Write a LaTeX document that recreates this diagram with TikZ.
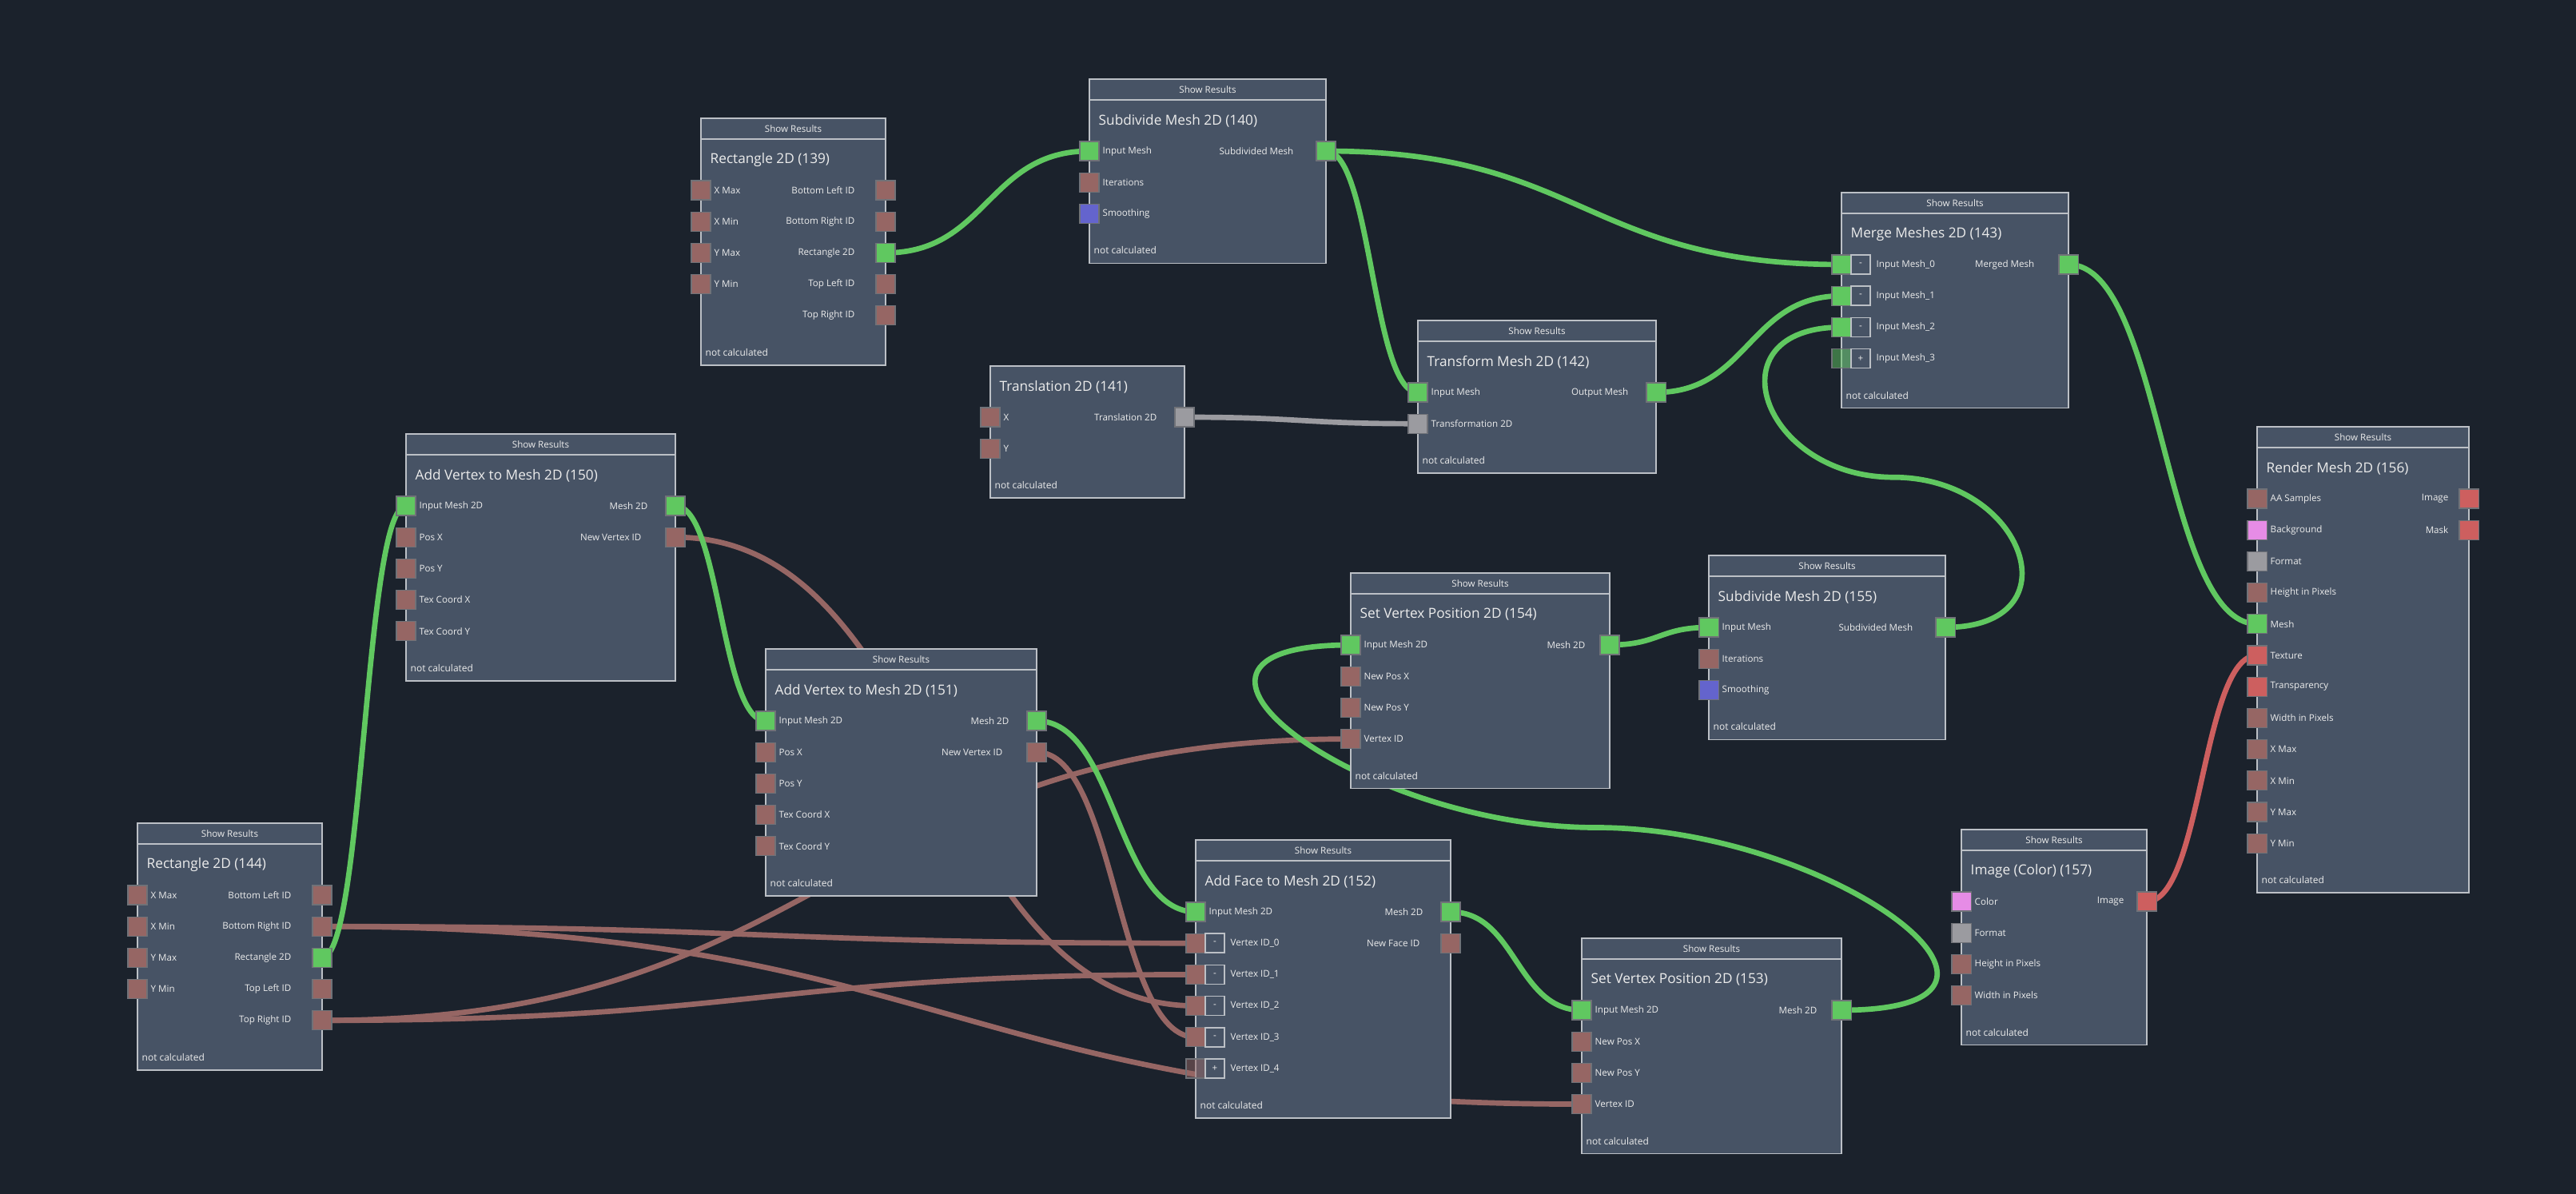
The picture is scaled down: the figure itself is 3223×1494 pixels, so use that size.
\documentclass[tikz,border=0pt]{standalone}
\usepackage{fontspec}
\setmainfont{Open Sans}
\usetikzlibrary{calc}
\definecolor{bg}{RGB}{27,34,44}
\definecolor{bodyc}{RGB}{71,83,101}
\definecolor{edgec}{RGB}{188,192,198}
\definecolor{txt}{RGB}{236,236,236}
\definecolor{cint}{RGB}{150,102,100}
\definecolor{cmesh}{RGB}{96,200,96}
\definecolor{cbool}{RGB}{100,100,205}
\definecolor{cgray}{RGB}{155,155,160}
\definecolor{cpink}{RGB}{230,140,230}
\definecolor{cimg}{RGB}{205,95,95}
\definecolor{portedge}{RGB}{112,114,120}
\pgfdeclarelayer{back}
\pgfdeclarelayer{wires}
\pgfsetlayers{back,wires,main}
\tikzset{
  nodehead/.style={draw=edgec,fill=bodyc,line width=0.45pt},
  nodebody/.style={draw=edgec,fill=bodyc,line width=0.45pt},
  hdrtxt/.style={text=txt,inner sep=0,font=\fontsize{3.3}{4}\selectfont},
  ttl/.style={text=txt,inner sep=0,anchor=west,font=\fontsize{4.9}{6}\selectfont},
  lbl/.style={text=txt,inner sep=0,font=\fontsize{3.3}{4}\selectfont},
  stat/.style={text=txt,inner sep=0,anchor=west,font=\fontsize{3.4}{4}\selectfont},
  port/.style={draw=portedge,line width=0.3pt,minimum size=0.24cm,inner sep=0,outer sep=0},
  btn/.style={draw=edgec,fill=bodyc,line width=0.45pt,minimum size=0.24cm,inner sep=0,
    text=txt,font=\fontsize{3.3}{4}\selectfont},
  wire/.style={line width=1.9pt}
}
\newcommand\nodeframe[6]{%
  \draw[nodebody] ({#2},{#3+26}) rectangle ({#4},{#5});
  \draw[nodehead] ({#2},{#3}) rectangle ({#4},{#3+26});
  \node[hdrtxt] (#1-hd) at ({(#2+#4)/2},{#3+13}) {Show Results};
  \node[ttl] (#1-tt) at ({#2+11},{#3+52}) {#6};
  \node[stat] (#1-st) at ({#2+5},{#5-16}) {not calculated};}
\newcommand\inport[5]{%
  \node[port,fill=#4] (#1) at ({#2},{#3}) {};
  \node[lbl,anchor=west] (#1-l) at ({#2+16},{#3}) {#5};}
\newcommand\outport[6][34]{%
  \node[port,fill=#5] (#2) at ({#3},{#4}) {};
  \node[lbl,anchor=east] (#2-l) at ({#3-#1},{#4}) {#6};}
\begin{document}
\begin{tikzpicture}[x=0.01cm,y=-0.01cm]
\begin{pgfonlayer}{back}
  \fill[bg] (0,0) rectangle (3223,1494);
\end{pgfonlayer}
\useasboundingbox (0,0) rectangle (3223,1494);

\nodeframe{n139}{877}{148}{1108}{456.8}{Rectangle 2D (139)}
\foreach \i/\t in {1/X Max,2/X Min,3/Y Max,4/Y Min}
  {\inport{n139-i\i}{877}{238+(\i-1)*39.2}{cint}{\t}}
\foreach \i/\c/\t in {1/cint/Bottom Left ID,2/cint/Bottom Right ID,3/cmesh/Rectangle 2D,4/cint/Top Left ID,5/cint/Top Right ID}
  {\outport[38]{n139-o\i}{1108}{238+(\i-1)*39.2}{\c}{\t}}

\nodeframe{n140}{1363}{99}{1659}{329.4}{Subdivide Mesh 2D (140)}
\foreach \i/\c/\t in {1/cmesh/Input Mesh,2/cint/Iterations,3/cbool/Smoothing}
  {\inport{n140-i\i}{1363}{189+(\i-1)*39.2}{\c}{\t}}
\outport[40]{n140-o1}{1659}{189}{cmesh}{Subdivided Mesh}

\draw[nodebody] (1239,458) rectangle (1482,623.2);
\node[ttl] (n141-tt) at (1250,484) {Translation 2D (141)};
\node[stat] (n141-st) at (1244,607.2) {not calculated};
\inport{n141-i1}{1239}{522}{cint}{X}
\inport{n141-i2}{1239}{561.2}{cint}{Y}
\outport{n141-o1}{1482}{522}{cgray}{Translation 2D}

\nodeframe{n142}{1774}{401}{2072}{592.2}{Transform Mesh 2D (142)}
\inport{n142-i1}{1774}{491}{cmesh}{Input Mesh}
\inport{n142-i2}{1774}{530.2}{cgray}{Transformation 2D}
\outport{n142-o1}{2072}{491}{cmesh}{Output Mesh}

\nodeframe{n143}{2304}{241}{2588}{510.6}{Merge Meshes 2D (143)}
\foreach \i/\s/\o/\t in {1/-/1/Input Mesh\_0,2/-/1/Input Mesh\_1,3/-/1/Input Mesh\_2,4/+/0.5/Input Mesh\_3}{
  \node[port,fill=cmesh,fill opacity=\o] (n143-i\i) at (2304,{331+(\i-1)*39.2}) {};
  \node[btn] (n143-b\i) at (2328,{331+(\i-1)*39.2}) {\s};
  \node[lbl,anchor=west] (n143-l\i) at (2347,{331+(\i-1)*39.2}) {\t};}
\outport[42]{n143-o1}{2588}{331}{cmesh}{Merged Mesh}

\nodeframe{n144}{172}{1030}{403}{1338.8}{Rectangle 2D (144)}
\foreach \i/\t in {1/X Max,2/X Min,3/Y Max,4/Y Min}
  {\inport{n144-i\i}{172}{1120+(\i-1)*39.2}{cint}{\t}}
\foreach \i/\c/\t in {1/cint/Bottom Left ID,2/cint/Bottom Right ID,3/cmesh/Rectangle 2D,4/cint/Top Left ID,5/cint/Top Right ID}
  {\outport[38]{n144-o\i}{403}{1120+(\i-1)*39.2}{\c}{\t}}

\nodeframe{n150}{508}{543}{845}{851.8}{Add Vertex to Mesh 2D (150)}
\foreach \i/\c/\t in {1/cmesh/Input Mesh 2D,2/cint/Pos X,3/cint/Pos Y,4/cint/Tex Coord X,5/cint/Tex Coord Y}
  {\inport{n150-i\i}{508}{633+(\i-1)*39.2}{\c}{\t}}
\outport{n150-o1}{845}{633}{cmesh}{Mesh 2D}
\outport[42]{n150-o2}{845}{672.2}{cint}{New Vertex ID}

\nodeframe{n151}{958}{812}{1297}{1120.8}{Add Vertex to Mesh 2D (151)}
\foreach \i/\c/\t in {1/cmesh/Input Mesh 2D,2/cint/Pos X,3/cint/Pos Y,4/cint/Tex Coord X,5/cint/Tex Coord Y}
  {\inport{n151-i\i}{958}{902+(\i-1)*39.2}{\c}{\t}}
\outport{n151-o1}{1297}{902}{cmesh}{Mesh 2D}
\outport[42]{n151-o2}{1297}{941.2}{cint}{New Vertex ID}

\nodeframe{n152}{1496}{1051}{1815}{1399}{Add Face to Mesh 2D (152)}
\inport{n152-i1}{1496}{1141}{cmesh}{Input Mesh 2D}
\foreach \i/\s/\o/\t in {2/-/1/Vertex ID\_0,3/-/1/Vertex ID\_1,4/-/1/Vertex ID\_2,5/-/1/Vertex ID\_3,6/+/0.5/Vertex ID\_4}{
  \node[port,fill=cint,fill opacity=\o] (n152-i\i) at (1496,{1141+(\i-1)*39.2}) {};
  \node[btn] (n152-b\i) at (1520,{1141+(\i-1)*39.2}) {\s};
  \node[lbl,anchor=west] (n152-l\i) at (1539,{1141+(\i-1)*39.2}) {\t};}
\outport{n152-o1}{1815}{1141}{cmesh}{Mesh 2D}
\outport[38]{n152-o2}{1815}{1180.2}{cint}{New Face ID}

\nodeframe{n153}{1979}{1174}{2304}{1443.6}{Set Vertex Position 2D (153)}
\foreach \i/\c/\t in {1/cmesh/Input Mesh 2D,2/cint/New Pos X,3/cint/New Pos Y,4/cint/Vertex ID}
  {\inport{n153-i\i}{1979}{1264+(\i-1)*39.2}{\c}{\t}}
\outport[30]{n153-o1}{2304}{1264}{cmesh}{Mesh 2D}

\nodeframe{n154}{1690}{717}{2014}{986.6}{Set Vertex Position 2D (154)}
\foreach \i/\c/\t in {1/cmesh/Input Mesh 2D,2/cint/New Pos X,3/cint/New Pos Y,4/cint/Vertex ID}
  {\inport{n154-i\i}{1690}{807+(\i-1)*39.2}{\c}{\t}}
\outport[30]{n154-o1}{2014}{807}{cmesh}{Mesh 2D}

\nodeframe{n155}{2138}{695}{2434}{925.4}{Subdivide Mesh 2D (155)}
\foreach \i/\c/\t in {1/cmesh/Input Mesh,2/cint/Iterations,3/cbool/Smoothing}
  {\inport{n155-i\i}{2138}{785+(\i-1)*39.2}{\c}{\t}}
\outport[40]{n155-o1}{2434}{785}{cmesh}{Subdivided Mesh}

\nodeframe{n156}{2824}{534}{3089}{1117.2}{Render Mesh 2D (156)}
\foreach \i/\c/\t in {1/cint/AA Samples,2/cpink/Background,3/cgray/Format,4/cint/Height in Pixels,5/cmesh/Mesh,6/cimg/Texture,7/cimg/Transparency,8/cint/Width in Pixels,9/cint/X Max,10/cint/X Min,11/cint/Y Max,12/cint/Y Min}
  {\inport{n156-i\i}{2824}{624+(\i-1)*39.2}{\c}{\t}}
\outport[25]{n156-o1}{3089}{624}{cimg}{Image}
\outport[25]{n156-o2}{3089}{663.2}{cimg}{Mask}

\nodeframe{n157}{2454}{1038}{2686}{1307.6}{Image (Color) (157)}
\foreach \i/\c/\t in {1/cpink/Color,2/cgray/Format,3/cint/Height in Pixels,4/cint/Width in Pixels}
  {\inport{n157-i\i}{2454}{1128+(\i-1)*39.2}{\c}{\t}}
\outport[28]{n157-o1}{2686}{1128}{cimg}{Image}

\coordinate (loopa) at ($(n155-o1)!.5!(n143-i3)$);
\coordinate (loopb) at ($(n153-o1)!.5!(n154-i1)$);
\begin{pgfonlayer}{wires}
  \draw[wire,cint] (n144-o2.center) .. controls +(546,0) and +(-546,0) .. (n152-i2.center);
  \draw[wire,cint] (n144-o2.center) .. controls +(788,0) and +(-788,0) .. (n153-i4.center);
  \draw[wire,cint] (n144-o5.center) .. controls +(546,0) and +(-546,0) .. (n152-i3.center);
  \draw[wire,cint] (n144-o5.center) .. controls +(643,0) and +(-643,0) .. (n154-i4.center);
  \draw[wire,cint] (n150-o2.center) .. controls +(325,0) and +(-325,0) .. (n152-i4.center);
  \draw[wire,cint] (n151-o2.center) .. controls +(100,0) and +(-100,0) .. (n152-i5.center);
  \draw[wire,cgray] (n141-o1.center) .. controls +(146,0) and +(-146,0) .. (n142-i2.center);
  \draw[wire,cimg] (n157-o1.center) .. controls +(69,0) and +(-69,0) .. (n156-i6.center);
  \draw[wire,cmesh] (n139-o3.center) .. controls +(127,0) and +(-127,0) .. (n140-i1.center);
  \draw[wire,cmesh] (n140-o1.center) .. controls +(322,0) and +(-322,0) .. (n143-i1.center);
  \draw[wire,cmesh] (n140-o1.center) .. controls +(57,0) and +(-57,0) .. (n142-i1.center);
  \draw[wire,cmesh] (n142-o1.center) .. controls +(116,0) and +(-116,0) .. (n143-i2.center);
  \draw[wire,cmesh] (n155-o1.center) .. controls +(165,0) and +(165,0) .. (loopa)
    .. controls +(-165,0) and +(-165,0) .. (n143-i3.center);
  \draw[wire,cmesh] (n143-o1.center) .. controls +(118,0) and +(-118,0) .. (n156-i5.center);
  \draw[wire,cmesh] (n144-o3.center) .. controls +(52,0) and +(-52,0) .. (n150-i1.center);
  \draw[wire,cmesh] (n150-o1.center) .. controls +(56,0) and +(-56,0) .. (n151-i1.center);
  \draw[wire,cmesh] (n151-o1.center) .. controls +(100,0) and +(-100,0) .. (n152-i1.center);
  \draw[wire,cmesh] (n152-o1.center) .. controls +(82,0) and +(-82,0) .. (n153-i1.center);
  \draw[wire,cmesh] (n153-o1.center) .. controls +(295,0) and +(295,0) .. (loopb)
    .. controls +(-295,0) and +(-295,0) .. (n154-i1.center);
  \draw[wire,cmesh] (n154-o1.center) .. controls +(62,0) and +(-62,0) .. (n155-i1.center);
\end{pgfonlayer}
\end{tikzpicture}
\end{document}
